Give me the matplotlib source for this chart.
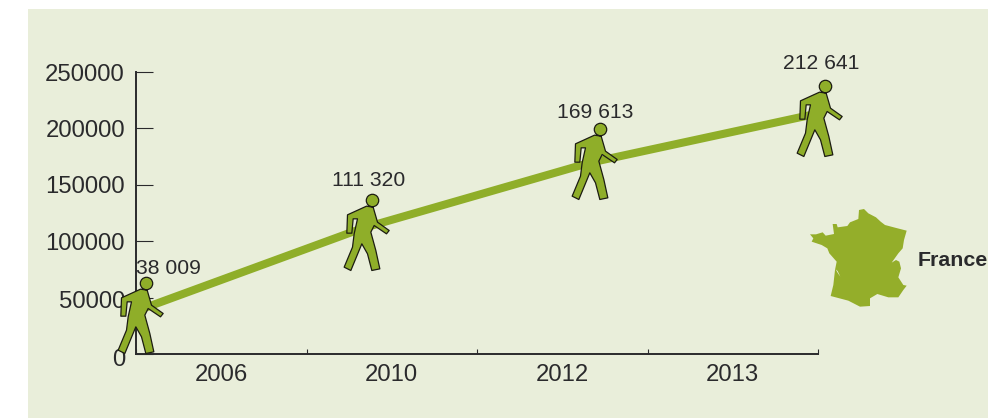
import matplotlib
matplotlib.use('Agg')
import matplotlib.pyplot as plt
import numpy as np
from matplotlib.patches import Polygon, Rectangle
from matplotlib.path import Path
from matplotlib.transforms import ScaledTranslation

# Inputs
years = ['2006', '2010', '2012', '2013']
visitors = [38009, 111320, 169613, 212641]
visitor_labels = ['38 009', '111 320', '169 613', '212 641']
y_ticks = [0, 50000, 100000, 150000, 200000, 250000]

# Where each point sits along the x axis, in units of one year band
point_x = [0.0, 1.325, 2.663, 3.98]

W, H, DPI = 988, 418, 100
PANEL = '#e9eeda'
GREEN = '#8fae29'
MAP_GREEN = '#94ae2a'
INK = '#2a2a2c'

plt.rcParams['font.family'] = ['Liberation Sans', 'DejaVu Sans']


def px_box(left, top, right, bottom):
    return [left / W, 1 - bottom / H, (right - left) / W, (bottom - top) / H]


def px_shift(dx, dy):
    return ScaledTranslation(dx / DPI, dy / DPI, fig.dpi_scale_trans)


# Walking figure, in pixels around the point it stands on
body = [(92, 52), (112, 55), (125, 100), (160, 125), (152, 135), (115, 110), (105, 130),
        (120, 185), (132, 240), (108, 245), (95, 195), (78, 165), (45, 245), (25, 235),
        (50, 175), (55, 135), (65, 90), (52, 90), (48, 133), (33, 133), (35, 78)]
body = [((x - 80) / 3, (119 - y) / 3) for x, y in body]
head = Path.circle(center=(10, 28), radius=6.2)
walker = Path.make_compound_path(Path(body + body[:1], closed=True), head)
walker_size = 2 * np.abs(walker.vertices).max() * 72 / DPI

fig = plt.figure(figsize=(W / DPI, H / DPI), dpi=DPI, facecolor='white')
fig.patches.append(Rectangle((28 / W, 0), 1 - 28 / W, 1 - 9 / H, transform=fig.transFigure,
                             facecolor=PANEL, edgecolor='none', zorder=-1))

ax = fig.add_axes(px_box(136, 72, 818, 354))
ax.patch.set_visible(False)
ax.set_xlim(0, 4)
ax.set_ylim(0, 250000)

for side in ['top', 'right']:
    ax.spines[side].set_visible(False)
for side in ['left', 'bottom']:
    ax.spines[side].set_linewidth(1.4)
    ax.spines[side].set_color(INK)

ax.set_yticks(y_ticks)
ax.tick_params(axis='y', direction='in', length=12, width=0.8, color=INK, pad=8,
               labelsize=17.2, labelcolor=INK)
ax.set_xticks(range(5))
ax.set_xticklabels([])
ax.tick_params(axis='x', which='major', direction='in', length=3.5, width=0.8, color=INK)
ax.set_xticks(np.arange(4) + 0.5, labels=years, minor=True)
ax.tick_params(axis='x', which='minor', length=0, pad=7, labelsize=17.2, labelcolor=INK)

# The lowest two labels sit a little under their ticks
for label, drop in zip(ax.get_yticklabels(), [3.5, 2]):
    label.set_transform(label.get_transform() + px_shift(0, -drop))

# Growth line, then the walkers on top of it
ax.plot(point_x, visitors, color=GREEN, linewidth=5.8, solid_capstyle='butt',
        clip_on=False, zorder=3)

walker_lift = [0, 0, 6, 0]
for x, v, lift in zip(point_x, visitors, walker_lift):
    ax.plot([x], [v], linestyle='none', marker=walker, markersize=walker_size,
            markerfacecolor=GREEN, markeredgecolor='#1c1c12', markeredgewidth=0.9,
            transform=ax.transData + px_shift(0, lift), clip_on=False, zorder=4)

label_dx = [32, 7, 5, 7]
label_dy = [43, 48, 50, 51]
for x, v, text, dx, dy in zip(point_x, visitors, visitor_labels, label_dx, label_dy):
    ax.annotate(text, (x, v), xytext=(dx * 72 / DPI, dy * 72 / DPI), textcoords='offset points',
                ha='center', va='center', fontsize=15.2, color=INK, zorder=5)

# Map of France
france = [(60, 133), (78, 133), (98, 127), (107, 137), (132, 132), (128, 102), (140, 102),
          (143, 112), (172, 108), (180, 97), (205, 87), (207, 60), (222, 57), (235, 70),
          (258, 82), (272, 95), (285, 105), (315, 113), (350, 122), (342, 150), (338, 175),
          (325, 190), (305, 218), (318, 210), (328, 215), (333, 235), (325, 262), (340, 285),
          (350, 287), (340, 300), (325, 322), (295, 322), (262, 312), (240, 325), (240, 348),
          (210, 350), (175, 332), (122, 318), (130, 285), (135, 240), (140, 215), (118, 190),
          (112, 175), (95, 165), (65, 155), (70, 145)]
gironde = [(137, 238), (143, 243), (151, 260), (144, 250)]
map_ax = fig.add_axes(px_box(790, 190, 988, 320))
map_ax.set_xlim(0, 594)
map_ax.set_ylim(390, 0)
map_ax.axis('off')
map_ax.add_patch(Polygon(france, closed=True, facecolor=MAP_GREEN, edgecolor='none'))
map_ax.add_patch(Polygon(gironde, closed=True, facecolor=PANEL, edgecolor='none'))

fig.text(918 / W, 1 - 260 / H, 'France', fontsize=15.4, fontweight='bold', color=INK,
         ha='left', va='center')

fig.savefig('out.png', dpi=DPI)
